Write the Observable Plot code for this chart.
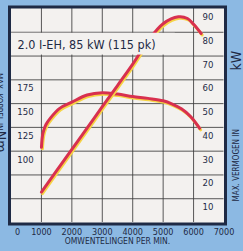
<!DOCTYPE html>
<html>
<head>
<meta charset="utf-8">
<script src="https://cdn.jsdelivr.net/npm/d3@7"></script>
<script src="https://cdn.jsdelivr.net/npm/@observablehq/plot@0.6"></script>
<style>
  html, body { margin: 0; padding: 0; background: #8cb9e3; }
  #chart svg { display: block; }
  #chart svg text { font-stretch: condensed; }
</style>
</head>
<body>
<div id="chart"></div>
<script>
// ---- data ----
const powerRpm = [1000, 1500, 2000, 2500, 3000, 3500, 4000, 4500, 5000, 5500, 5800, 6000, 6250];
const powerKw  = [12.8, 21.8, 30.8, 39.7, 48.7, 57.6, 66.6, 76.3, 83.6, 86.5, 85.8, 83.4, 79.5];

const torqueRpm = [1000, 1050, 1150, 1300, 1600, 2000, 2500, 3000, 3500, 4000, 4500, 5000, 5300, 5600, 5900, 6200];
const torqueNm  = [104, 119, 128, 135, 145, 151.5, 159, 161.5, 160, 157.5, 155.5, 153, 149.5, 144.5, 136.5, 124];

const rpmTicks = [0, 1000, 2000, 3000, 4000, 5000, 6000, 7000];
const rpmGrid = [1000, 2000, 3000, 4000, 5000, 6000];
const kwTicks = [10, 20, 30, 40, 50, 60, 70, 80, 90];
const kwGrid = [10, 20, 30, 40, 50, 60, 70, 80];
const nmTicks = [100, 125, 150, 175];

const titleText = "2.0 I-EH, 85 kW (115 pk)";
const titleRow = [{from: 0, to: 5400, low: 70, high: 80}];
const xLabel = "OMWENTELINGEN PER MIN.";
const yRightLabel = "MAX. VERMOGEN IN";
const yRightUnit = "kW";
const yLeftLabel = "MAX. KOPPEL IN";
const yLeftUnit = "Nm";

// torque (Nm) shares the kW grid: Nm = 25 + 2.5 * kW
const nmToKw = nm => (nm - 25) / 2.5;

const power = powerRpm.map((r, i) => ({rpm: r, kw: powerKw[i]}));
const torque = torqueRpm.map((r, i) => ({rpm: r, kw: nmToKw(torqueNm[i])}));

const ink = "#1e2a45";
const paper = "#f3f1ef";
const red = "#d8304f";
const yellow = "#f6d445";
const font = "'DejaVu Sans Condensed', 'DejaVu Sans', sans-serif";

const chart = Plot.plot({
  width: 243,
  height: 251,
  marginLeft: 10.5,
  marginRight: 19.5,
  marginTop: 8,
  marginBottom: 29,
  x: {domain: [0, 7000], axis: null},
  y: {domain: [0, 90], axis: null},
  style: {background: "#8cb9e3", fontFamily: font, overflow: "visible"},
  marks: [
    Plot.frame({fill: paper, inset: -1.5}),
    Plot.ruleX(rpmGrid, {stroke: "#3c3c3c", strokeWidth: 1, strokeOpacity: 0.85}),
    Plot.ruleY(kwGrid, {stroke: "#3c3c3c", strokeWidth: 1, strokeOpacity: 0.85}),
    Plot.line(torque, {x: "rpm", y: "kw", stroke: yellow, strokeWidth: 3, dx: 1, dy: 1.5, curve: "catmull-rom"}),
    Plot.line(torque, {x: "rpm", y: "kw", stroke: red, strokeWidth: 3, curve: "catmull-rom"}),
    Plot.line(power, {x: "rpm", y: "kw", stroke: yellow, strokeWidth: 3, dx: 1, dy: 1.5, curve: "catmull-rom"}),
    Plot.line(power, {x: "rpm", y: "kw", stroke: red, strokeWidth: 3, curve: "catmull-rom"}),
    Plot.rect(titleRow, {x1: "from", x2: "to", y1: "low", y2: "high", fill: paper, insetTop: 1, insetBottom: 1}),
    Plot.text([titleText], {x: 0, y: 75, text: d => d, textAnchor: "start", dx: 6.5, dy: 0.5, fontSize: 12.5, fill: ink}),
    Plot.frame({stroke: ink, strokeWidth: 3, inset: -1.5}),
    Plot.text(rpmTicks.filter(d => d === 0), {x: d => d, y: 0, text: d => String(d), dx: 6.5, dy: 9.5, fontSize: 9, fill: ink}),
    Plot.text(rpmTicks.filter(d => d !== 0), {x: d => d, y: 0, text: d => String(d), dy: 9.5, fontSize: 9, fill: ink}),
    Plot.text(kwTicks, {x: 7000, y: d => d, text: d => String(d), dx: -16, dy: 8.5, fontSize: 9.5, fill: ink}),
    Plot.text(nmTicks, {x: 0, y: d => nmToKw(d), text: d => String(d), dx: 14.5, dy: 8.5, fontSize: 9.5, fill: ink}),
    Plot.text([xLabel], {frameAnchor: "bottom", text: d => d, dy: 21, fontSize: 8.5, fill: ink}),
    Plot.text([yRightLabel], {frameAnchor: "right", text: d => d, rotate: -90, textAnchor: "start", dx: 12, dy: 86, fontSize: 8, fill: ink}),
    Plot.text([yRightUnit], {frameAnchor: "right", text: d => d, rotate: -90, textAnchor: "start", dx: 12.5, dy: -45, fontSize: 14, fill: ink}),
    Plot.text([yLeftLabel], {frameAnchor: "left", text: d => d, rotate: 90, textAnchor: "end", lineAnchor: "bottom", dx: -15, dy: 15, fontSize: 8, fill: ink}),
    Plot.text([yLeftUnit], {frameAnchor: "left", text: d => d, rotate: 90, textAnchor: "end", lineAnchor: "bottom", dx: -15, dy: 37, fontSize: 14, fill: ink})
  ]
});
document.getElementById("chart").appendChild(chart);
</script>
</body>
</html>
